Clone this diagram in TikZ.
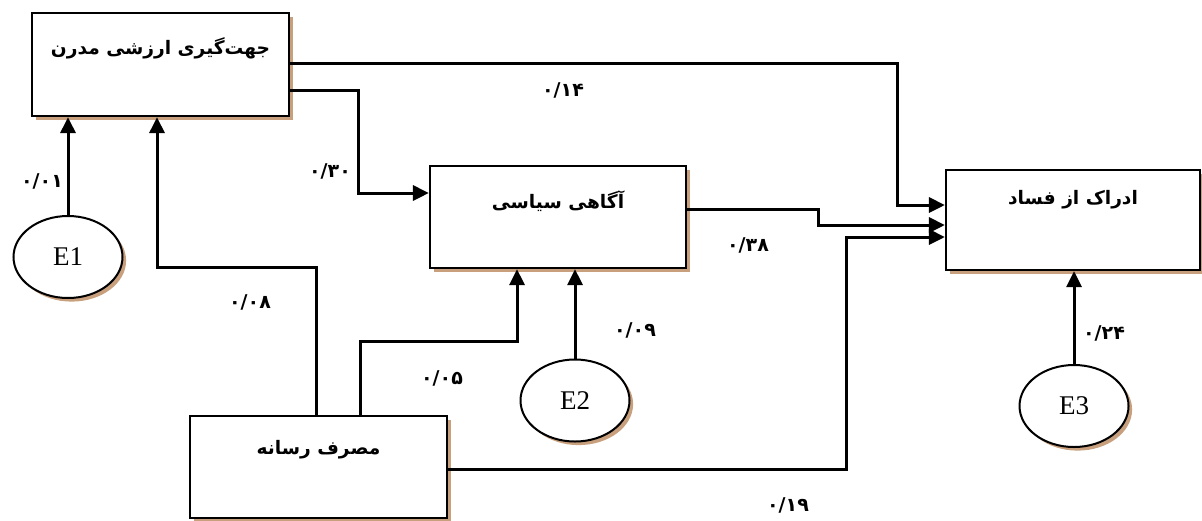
\documentclass[tikz,border=0pt]{standalone}
\usepackage{fontspec}
\setmainfont{Liberation Serif}
\newfontfamily\farsi[Script=Arabic]{DejaVu Sans}
\TeXXeTstate=1
\usepackage{xcolor}
\usetikzlibrary{arrows.meta,shapes,shadows}
\definecolor{shadowtan}{RGB}{201,160,125}

\begin{document}
\begin{tikzpicture}[x=0.5pt,y=-0.5pt,
        box/.style={draw, line width=1.1pt, fill=white, inner sep=0pt,
            drop shadow={shadow xshift=2pt, shadow yshift=-2pt, fill=shadowtan, opacity=1}},
        err/.style={ellipse, draw, line width=1pt, fill=white, inner sep=0pt,
            minimum width=54.5pt, minimum height=41pt, font=\fontsize{13.5}{15}\selectfont,
            drop shadow={shadow xshift=1.8pt, shadow yshift=-1.8pt, fill=shadowtan, opacity=1}},
        boxtext/.style={font=\farsi\bfseries\fontsize{9.3}{11}\selectfont},
        coef/.style={font=\farsi\bfseries\fontsize{9.5}{11}\selectfont},
        arr/.style={line width=1.5pt, -{Triangle[length=8pt,width=7.5pt]}}]
        \useasboundingbox (0,0) rectangle (1202,520);
        % variables
        \node[box, minimum width=128.5pt, minimum height=51.5pt,
            label={[boxtext, yshift=8.25pt]center:{\beginR جهت‌گیری ارزشی مدرن\endR}}] (mod) at (160.5,64.5) {};
        \node[box, minimum width=128pt, minimum height=51pt,
            label={[boxtext, yshift=8pt]center:{\beginR آگاهی سیاسی\endR}}] (pol) at (558,217) {};
        \node[box, minimum width=127pt, minimum height=50pt,
            label={[boxtext, yshift=10pt]center:{\beginR ادراک از فساد\endR}}] (cor) at (1073,220) {};
        \node[box, minimum width=128.5pt, minimum height=51pt,
            label={[boxtext, yshift=8.5pt]center:{\beginR مصرف رسانه\endR}}] (med) at (318.5,467) {};
        % errors
        \node[err] (e1) at (68,257) {E1};
        \node[err] (e2) at (575,400.5) {E2};
        \node[err] (e3) at (1074,406) {E3};
        % paths
        \draw[arr] (e1.north) -- (e1.north |- mod.south);
        \draw[arr] (e2.north) -- (e2.north |- pol.south);
        \draw[arr] (e3.north) -- (e3.north |- cor.south);
        \draw[arr] ([xshift=-1.25pt]med.north) |- (157,267) -- ([xshift=-1.75pt]mod.south);
        \draw[arr] ([xshift=20.75pt]med.north) |- (517,341) -- ([xshift=-20.5pt]pol.south);
        \draw[arr] ([yshift=-12.75pt]mod.east) -| (358,193) -- ([yshift=12pt]pol.west);
        \draw[arr] ([yshift=0.75pt]mod.east) -| (897,205) -- ([yshift=7.5pt]cor.west);
        \draw[arr] ([yshift=4pt]pol.east) -| (818,225) -- ([yshift=-2.5pt]cor.west);
        \draw[arr] ([yshift=-1pt]med.east) -| (846,237) -- ([yshift=-8.5pt]cor.west);
        % coefficients
        \node[coef] (c01) at (42,181) {۰/۰۱};
        \node[coef] (c14) at (563,90) {۰/۱۴};
        \node[coef] (c30) at (330,171) {۰/۳۰};
        \node[coef] (c08) at (250,302) {۰/۰۸};
        \node[coef] (c05) at (442,378) {۰/۰۵};
        \node[coef] (c09) at (635,330) {۰/۰۹};
        \node[coef] (c38) at (748,245) {۰/۳۸};
        \node[coef] (c24) at (1104,333) {۰/۲۴};
        \node[coef] (c19) at (788,505) {۰/۱۹};
    \end{tikzpicture}
\end{document}
